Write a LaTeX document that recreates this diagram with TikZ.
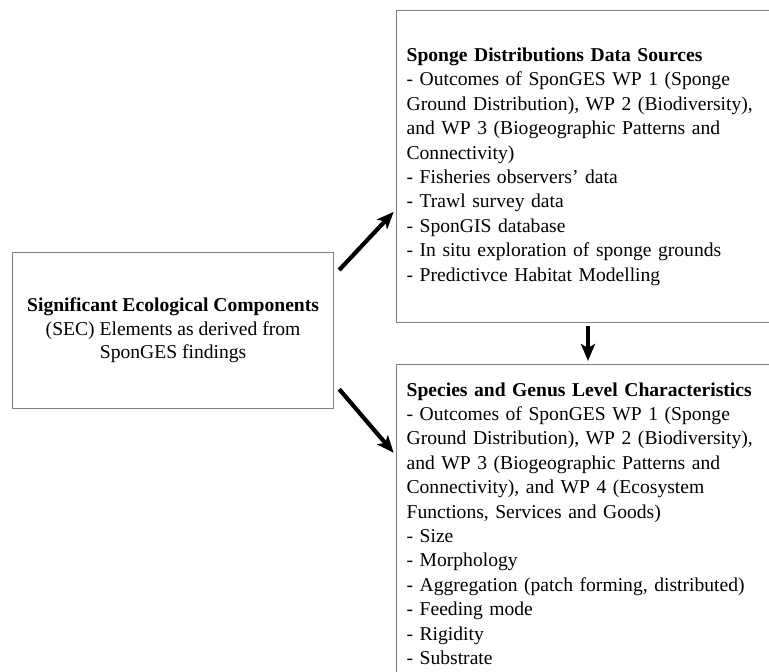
\documentclass[tikz,border=0pt]{standalone}
\usepackage{fontspec}
\setmainfont{Liberation Serif}
\usetikzlibrary{arrows.meta,calc}
\tikzset{
  box/.style={draw=black!50, line width=1.2pt, inner xsep=10pt, inner ysep=0pt},
  conn/.style={line width=4.2pt, -{Stealth[length=17pt,width=14pt,inset=4pt]}, shorten >=-1pt},
  txt/.style={font=\fontsize{19.6}{24.4}\selectfont}
}
\begin{document}
\begin{tikzpicture}[x=1pt,y=1pt]
\useasboundingbox (0,0) rectangle (769,-672);
\node[box, txt, anchor=north west, minimum height=312pt, text width=400pt, align=left] (dist) at (396,-10)
{\textbf{Sponge Distributions Data Sources}\\
- Outcomes of SponGES WP 1 (Sponge\\
Ground Distribution), WP 2 (Biodiversity),\\
and WP 3 (Biogeographic Patterns and\\
Connectivity)\\
- Fisheries observers’ data\\
- Trawl survey data\\
- SponGIS database\\
- In situ exploration of sponge grounds\\
- Predictivce Habitat Modelling};
\node[box, txt, anchor=north west, minimum height=318pt, text width=400pt, align=left] (spec) at (396,-364)
{\textbf{Species and Genus Level Characteristics}\\
- Outcomes of SponGES WP 1 (Sponge\\
Ground Distribution), WP 2 (Biodiversity),\\
and WP 3 (Biogeographic Patterns and\\
Connectivity), and WP 4 (Ecosystem\\
Functions, Services and Goods)\\
- Size\\
- Morphology\\
- Aggregation (patch forming, distributed)\\
- Feeding mode\\
- Rigidity\\
- Substrate};
\node[box, font=\fontsize{19.6}{23.5}\selectfont, anchor=north west, minimum width=321pt, minimum height=156pt, align=center, inner xsep=0pt] (sec) at (12,-252)
{\textbf{Significant Ecological Components}\\
(SEC) Elements as derived from\\
SponGES findings};
\draw[conn] ([xshift=5pt,yshift=-18pt]sec.north east) -- ([xshift=-3pt,yshift=-46pt]dist.west);
\draw[conn] ([xshift=5pt,yshift=20pt]sec.south east) -- ([xshift=-3pt,yshift=-88pt]spec.north west);
\draw[conn] ([xshift=192pt,yshift=-3pt]dist.south west) -- ([xshift=192pt,yshift=4pt]spec.north west);
\end{tikzpicture}
\end{document}
